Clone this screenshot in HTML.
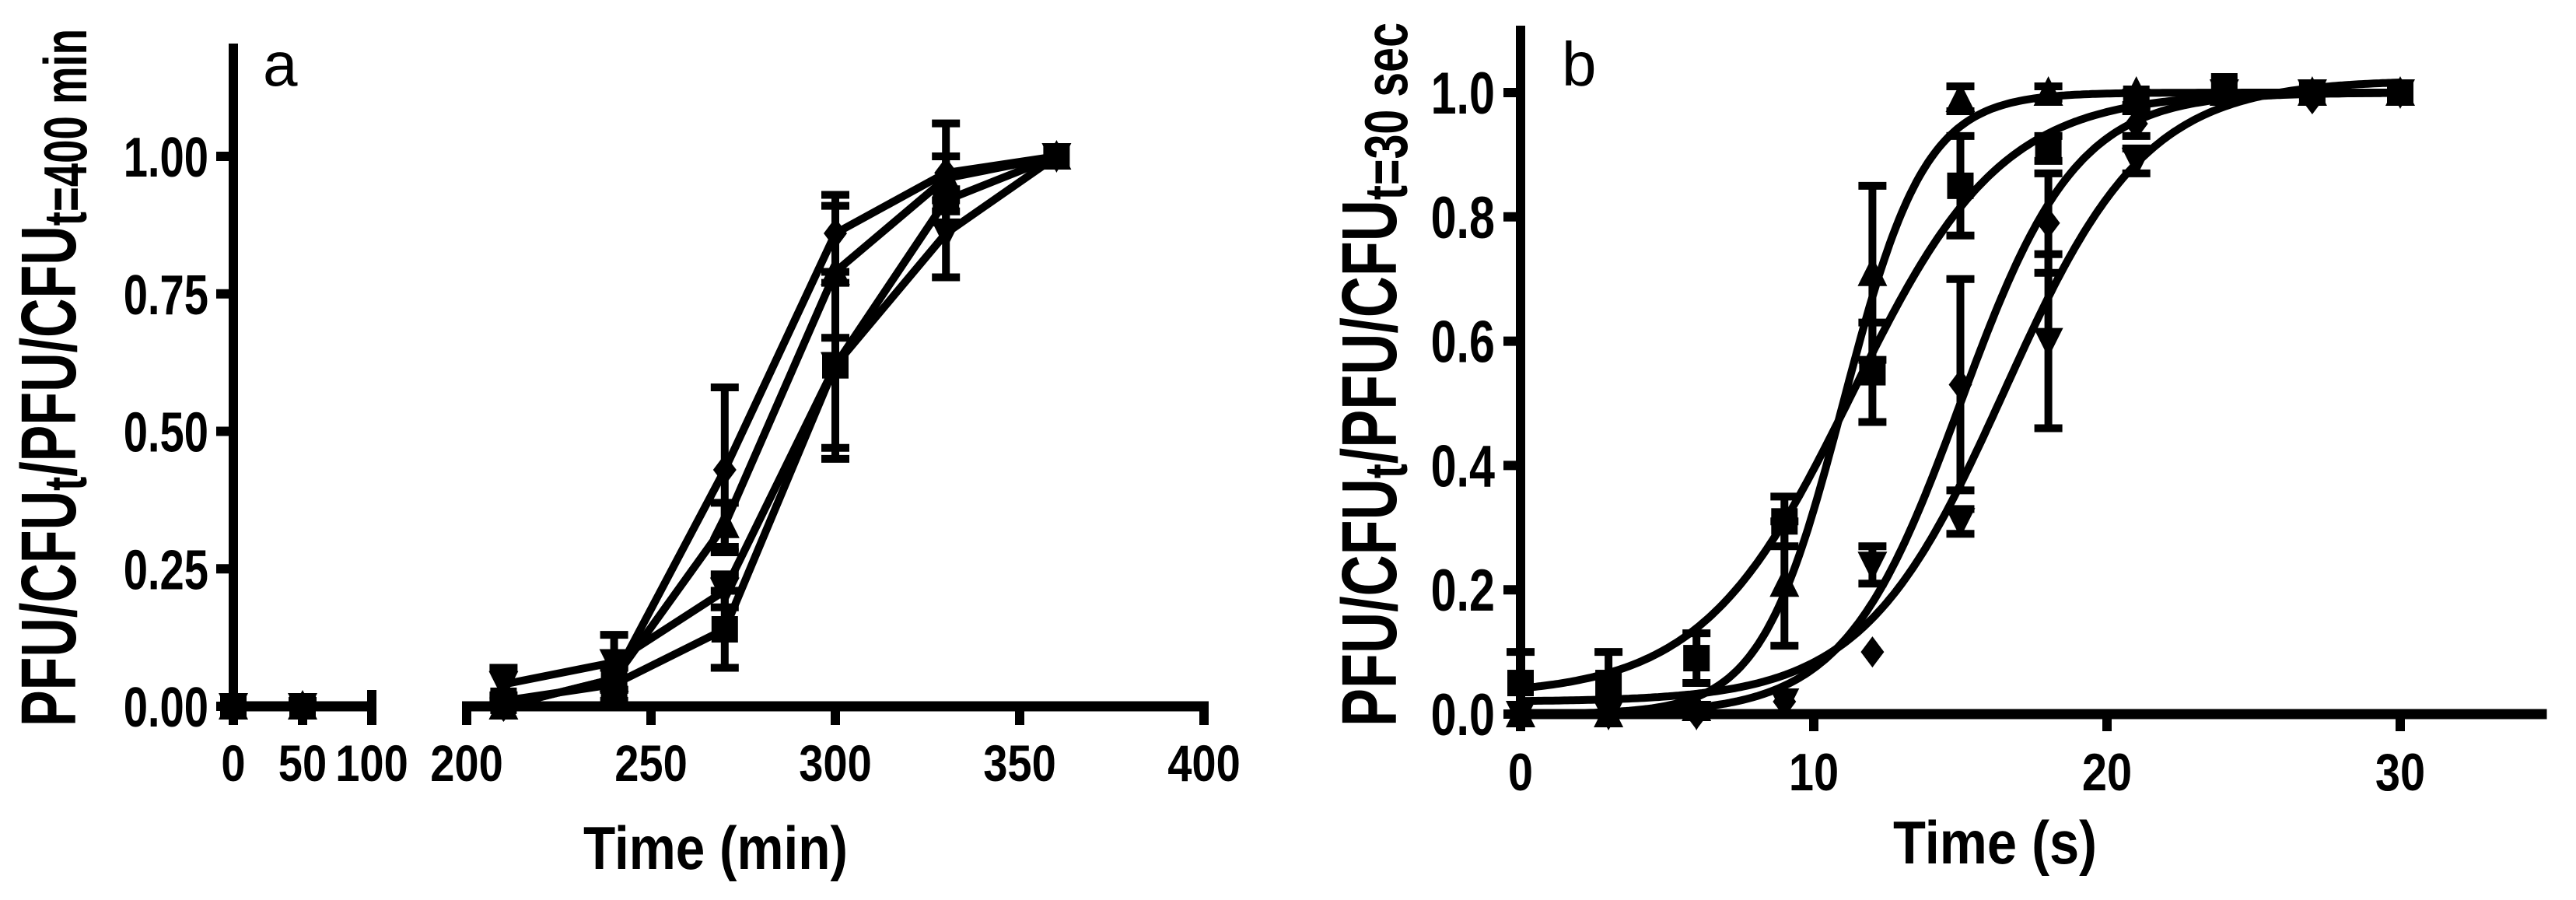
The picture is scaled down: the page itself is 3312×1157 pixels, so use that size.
<!DOCTYPE html>
<html><head><meta charset="utf-8"><style>
html,body{margin:0;padding:0;background:#fff;}
svg{display:block;}
text{font-family:"Liberation Sans",sans-serif;font-weight:bold;fill:#000;}
</style></head>
<body>
<svg id="fig" width="3312" height="1157" viewBox="0 0 3312 1157">
  <g id="pa"></g>
  <g id="pb"></g>
</svg>
<script>
// ---------- Panel A data ----------
const aX = [0, 50, 210, 240, 270, 300, 330, 360];
const aDiamond = [0, 0, 0.00, 0.05, 0.43, 0.86, 0.97, 1.00];
const aTriUp   = [0, 0, 0.00, 0.05, 0.33, 0.79, 0.96, 1.00];
const aTriDown = [0, 0, 0.04, 0.08, 0.21, 0.62, 0.86, 1.00];
const aSquare  = [0, 0, 0.01, 0.04, 0.14, 0.62, 0.92, 1.00];
const aDiamondErr = [0, 0, 0, 0.02, 0.15, 0.07, 0.09, 0];
const aTriUpErr   = [0, 0, 0, 0.02, 0.04, 0.12, 0.04, 0];
const aTriDownErr = [0, 0, 0.03, 0.05, 0.03, 0.17, 0.08, 0];
const aSquareErr  = [0, 0.01, 0.01, 0.03, 0.07, 0.15, 0.02, 0];
const aYTicks = [0, 0.25, 0.5, 0.75, 1.0];
const aYTickLabels = ["0.00", "0.25", "0.50", "0.75", "1.00"];
const aXTicks1 = [0, 50, 100];
const aXTicks2 = [200, 250, 300, 350, 400];

// ---------- Panel B data ----------
const bX = [0, 3, 6, 9, 12, 15, 18, 21, 24, 27, 30];
const bTriUp   = [0, 0, 0.01, 0.21, 0.71, 0.99, 1.00, 1.00, 1.00, 1.00, 1.00];
const bSquare  = [0.05, 0.05, 0.09, 0.31, 0.55, 0.85, 0.91, 0.99, 1.01, 1.00, 1.00];
const bDiamond = [0, 0, 0, 0.02, 0.10, 0.53, 0.79, 0.95, 1.00, 0.99, 1.00];
const bTriDown = [0, 0, 0, 0.02, 0.24, 0.31, 0.60, 0.89, 1.00, 1.00, 1.00];
const bTriUpErr   = [0, 0, 0, 0.10, 0.14, 0.02, 0.01, 0, 0, 0, 0];
const bSquareErr  = [0.05, 0.05, 0.04, 0.04, 0.08, 0.08, 0.02, 0.01, 0, 0, 0];
const bDiamondErr = [0, 0, 0, 0, 0, 0.17, 0.08, 0.02, 0, 0, 0];
const bTriDownErr = [0, 0, 0, 0, 0.03, 0.02, 0.14, 0.02, 0, 0, 0];
// fitted sigmoid params: bottom, top, x50, hill slope
const bFitTriUp   = [0, 1.0, 11.0, 0.31];
const bFitSquare  = [0.03, 1.0, 11.3, 0.17];
const bFitDiamond = [0, 1.0, 15.0, 0.22];
const bFitTriDown = [0.02, 1.02, 16.5, 0.18];
const bYTicks = [0, 0.2, 0.4, 0.6, 0.8, 1.0];
const bYTickLabels = ["0.0", "0.2", "0.4", "0.6", "0.8", "1.0"];
const bXTicks = [0, 10, 20, 30];

const NS = "http://www.w3.org/2000/svg";
function mk(parent, tag, attrs) {
  const e = document.createElementNS(NS, tag);
  for (const k in attrs) e.setAttribute(k, attrs[k]);
  parent.appendChild(e);
  return e;
}
function txtWidth(s, fs, cond) {
  let w = 0;
  for (const c of s) w += (c === '.' ? 0.278 : c === ' ' ? 0.278 : c === '(' || c === ')' ? 0.333 : c === 'i' || c === 'l' ? 0.278 : c === 'T' ? 0.611 : c === 'm' ? 0.889 : 0.556);
  return w * fs * cond;
}

function axA(v) { return v <= 100 ? 300 + v * 1.78 : 600 + (v - 200) * 4.74; }
function ayA(v) { return 908 - v * 707; }
function axB(v) { return 1955 + v * 37.7; }
function ayB(v) { return 918 - v * 799; }

function marker(g, shape, cx, cy) {
  const s = 17;
  let m;
  if (shape === 'square') m = mk(g, 'rect', {x: cx - s, y: cy - s, width: 2 * s, height: 2 * s});
  else if (shape === 'up') m = mk(g, 'polygon', {points: `${cx},${cy - s - 4} ${cx - s - 2},${cy + s} ${cx + s + 2},${cy + s}`});
  else if (shape === 'down') m = mk(g, 'polygon', {points: `${cx},${cy + s + 4} ${cx - s - 2},${cy - s} ${cx + s + 2},${cy - s}`});
  else m = mk(g, 'polygon', {points: `${cx},${cy - s - 3} ${cx - s + 2},${cy} ${cx},${cy + s + 3} ${cx + s - 2},${cy}`});
  m.setAttribute('fill', '#000');
  
  
}
function errbar(g, cx, cyTop, cyBot) {
  if (Math.abs(cyTop - cyBot) < 2) return;
  const e = mk(g, 'path', {d: `M${cx},${cyTop}V${cyBot}M${cx - 18},${cyTop}H${cx + 18}M${cx - 18},${cyBot}H${cx + 18}`, stroke: '#000', 'stroke-width': 10, fill: 'none'});
  
  
}

// ---------- Draw panel A ----------
const pa = document.getElementById('pa');
let e = mk(pa, 'line', {x1: 300, y1: 56, x2: 300, y2: 914, stroke: '#000', 'stroke-width': 12});
 
e = mk(pa, 'line', {x1: 294, y1: 908, x2: axA(100) + 6, y2: 908, stroke: '#000', 'stroke-width': 13});
 
e = mk(pa, 'line', {x1: axA(200) - 6, y1: 908, x2: axA(400) + 6, y2: 908, stroke: '#000', 'stroke-width': 13});
 
aYTicks.forEach((v, i) => {
  const y = ayA(v);
  const t = mk(pa, 'line', {x1: 278, y1: y, x2: 300, y2: y, stroke: '#000', 'stroke-width': 12});
   
  const lab = mk(pa, 'text', {x: 268, y: y + 26, 'font-size': 72, 'text-anchor': 'end', textLength: txtWidth(aYTickLabels[i], 72, 0.78), lengthAdjust: 'spacingAndGlyphs'});
  lab.textContent = aYTickLabels[i];
   
});
aXTicks1.concat(aXTicks2).forEach(v => {
  const x = axA(v);
  const t = mk(pa, 'line', {x1: x, y1: 902, x2: x, y2: 932, stroke: '#000', 'stroke-width': 12});
   
  const s = String(v);
  const lab = mk(pa, 'text', {x: x, y: 1004, 'font-size': 66, 'text-anchor': 'middle', textLength: txtWidth(s, 66, 0.85), lengthAdjust: 'spacingAndGlyphs'});
  lab.textContent = s;
   
});
e = mk(pa, 'line', {x1: axA(100), y1: 887, x2: axA(100), y2: 930, stroke: '#000', 'stroke-width': 12});
 
e = mk(pa, 'text', {x: 920, y: 1117, 'font-size': 78, 'text-anchor': 'middle', textLength: 340, lengthAdjust: 'spacingAndGlyphs'});
e.textContent = 'Time (min)';
 
e = mk(pa, 'text', {x: 0, y: 0, 'font-size': 100, transform: 'translate(97,934) rotate(-90)', textLength: 897, lengthAdjust: 'spacingAndGlyphs'});
e.innerHTML = 'PFU/CFU<tspan font-size="78" dy="14">t</tspan><tspan dy="-14">/PFU/CFU</tspan><tspan font-size="78" dy="14">t=400 min</tspan>';
 
e = mk(pa, 'text', {x: 338, y: 110, 'font-size': 80, style: 'font-weight:normal'});
e.textContent = 'a';
 

const aSeries = [
  ['square', aSquare, aSquareErr], ['down', aTriDown, aTriDownErr],
  ['up', aTriUp, aTriUpErr], ['diamond', aDiamond, aDiamondErr]
];
aSeries.forEach(([shape, vals, errs]) => {
  const g = mk(pa, 'g', {});
   
  let d1 = '', d2 = '';
  aX.forEach((x, i) => {
    const p = `${axA(x)},${ayA(vals[i])}`;
    if (x <= 100) d1 += (d1 ? 'L' : 'M') + p; else d2 += (d2 ? 'L' : 'M') + p;
  });
  const l1 = mk(g, 'path', {d: d1 + ' ' + d2, stroke: '#000', 'stroke-width': 10, fill: 'none', 'stroke-linejoin': 'round'});
   
  aX.forEach((x, i) => {
    errbar(g, axA(x), ayA(vals[i] + errs[i]), ayA(Math.max(0, vals[i] - errs[i])));
    marker(g, shape, axA(x), ayA(vals[i]));
  });
});

// ---------- Draw panel B ----------
const pb = document.getElementById('pb');
e = mk(pb, 'line', {x1: 1955, y1: 33, x2: 1955, y2: 924, stroke: '#000', 'stroke-width': 12});
 
e = mk(pb, 'line', {x1: 1949, y1: 918, x2: axB(35), y2: 918, stroke: '#000', 'stroke-width': 13});
 
bYTicks.forEach((v, i) => {
  const y = ayB(v);
  const t = mk(pb, 'line', {x1: 1933, y1: y, x2: 1955, y2: y, stroke: '#000', 'stroke-width': 12});
   
  const lab = mk(pb, 'text', {x: 1922, y: y + 27, 'font-size': 76, 'text-anchor': 'end', textLength: txtWidth(bYTickLabels[i], 76, 0.78), lengthAdjust: 'spacingAndGlyphs'});
  lab.textContent = bYTickLabels[i];
   
});
bXTicks.forEach(v => {
  const x = axB(v);
  const t = mk(pb, 'line', {x1: x, y1: 912, x2: x, y2: 940, stroke: '#000', 'stroke-width': 12});
   
  const s = String(v);
  const lab = mk(pb, 'text', {x: x, y: 1016, 'font-size': 68, 'text-anchor': 'middle', textLength: txtWidth(s, 68, 0.85), lengthAdjust: 'spacingAndGlyphs'});
  lab.textContent = s;
   
});
e = mk(pb, 'text', {x: 2565, y: 1110, 'font-size': 78, 'text-anchor': 'middle', textLength: 262, lengthAdjust: 'spacingAndGlyphs'});
e.textContent = 'Time (s)';
 
e = mk(pb, 'text', {x: 0, y: 0, 'font-size': 100, transform: 'translate(1795,934) rotate(-90)', textLength: 905, lengthAdjust: 'spacingAndGlyphs'});
e.innerHTML = 'PFU/CFU<tspan font-size="78" dy="14">t</tspan><tspan dy="-14">/PFU/CFU</tspan><tspan font-size="78" dy="14">t=30 sec</tspan>';
 
e = mk(pb, 'text', {x: 2008, y: 110, 'font-size': 80, style: 'font-weight:normal'});
e.textContent = 'b';
 

function sig(p, x) { return p[0] + (p[1] - p[0]) / (1 + Math.pow(10, (p[2] - x) * p[3])); }
const bSeries = [
  ['square', bSquare, bSquareErr, bFitSquare], ['up', bTriUp, bTriUpErr, bFitTriUp],
  ['diamond', bDiamond, bDiamondErr, bFitDiamond], ['down', bTriDown, bTriDownErr, bFitTriDown]
];
bSeries.forEach(([shape, vals, errs, fit]) => {
  const g = mk(pb, 'g', {});
   
  let d = '';
  for (let k = 0; k <= 300; k++) {
    const x = k * 0.1;
    d += (k ? 'L' : 'M') + axB(x).toFixed(1) + ',' + ayB(sig(fit, x)).toFixed(1);
  }
  const c = mk(g, 'path', {d: d, stroke: '#000', 'stroke-width': 10, fill: 'none'});
   
  bX.forEach((x, i) => {
    errbar(g, axB(x), ayB(vals[i] + errs[i]), ayB(Math.max(-0.02, vals[i] - errs[i])));
    marker(g, shape, axB(x), ayB(vals[i]));
  });
});
</script>
</body></html>
